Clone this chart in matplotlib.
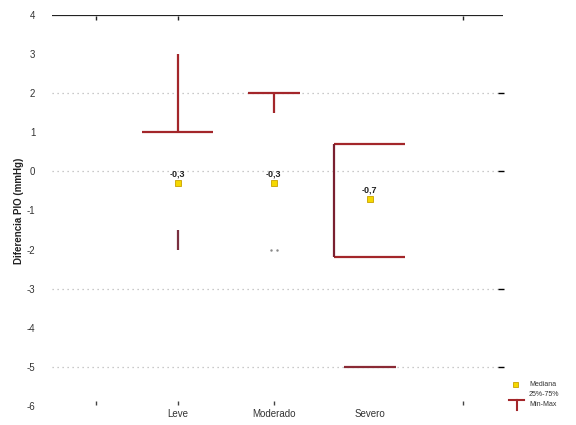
import matplotlib
matplotlib.use("Agg")
import matplotlib.pyplot as plt
from matplotlib.lines import Line2D

# %%
# Data (Statistica-style box plot)
categories = ["Leve", "Moderado", "Severo"]
medians = [-0.3, -0.3, -0.7]
q25 = [-1.5, -2.0, -2.2]
q75 = [1.0, 1.5, 0.7]
mins = [-2.0, -2.0, -5.0]
maxs = [3.0, 2.0, 0.7]
median_labels = ["-0,3", "-0,3", "-0,7"]
y_ticks = [4, 3, 2, 1, 0, -1, -2, -3, -4, -5, -6]
grid_rows = [2, 0, -3, -5]

# %%
red = "#a3262a"
plt.rcParams['font.family'] = ['Liberation Sans', 'DejaVu Sans']

fig = plt.figure(figsize=(5.76, 4.25), dpi=100)
ax = fig.add_axes([52 / 576, 1 - 406 / 425, (503 - 52) / 576, (406 - 15) / 425])

xmin, xmax = -0.31, 4.39
xs = [1, 2, 3]
box_w = 0.37
cap_w = 0.27

# Leve: box top + whiskers (only these are visible in the original)
ax.hlines(q75[0], xs[0] - box_w, xs[0] + box_w, color=red, lw=1.6)
ax.vlines(xs[0], q75[0], maxs[0], color=red, lw=1.6)
ax.vlines(xs[0], mins[0], q25[0], color="#7a3040", lw=1.6)

# Moderado: upper cap + whisker
ax.hlines(maxs[1], xs[1] - cap_w, xs[1] + cap_w, color=red, lw=1.6)
ax.vlines(xs[1], q75[1], maxs[1], color=red, lw=1.6)
ax.plot([xs[1] - 0.03, xs[1] + 0.03], [mins[1], mins[1]], ls="none",
        marker=".", ms=1.5, color="#888888")

# Severo: box (left side, top, bottom) + lower cap
ax.hlines([q75[2], q25[2]], xs[2] - box_w, xs[2] + box_w, color=red, lw=1.6)
ax.vlines(xs[2] - box_w, q25[2], q75[2], color="#7a2030", lw=1.6)
ax.hlines(mins[2], xs[2] - cap_w, xs[2] + cap_w, color="#8a2a35", lw=1.6)

# medians
ax.plot(xs, medians, ls="none", marker="s", ms=4, mfc="#f5d800",
        mec="#c8a000", mew=0.6, zorder=5)
for x, m, lab in zip(xs, medians, median_labels):
    ax.text(x, m + 0.12, lab, ha="center", va="bottom", fontsize=6.5,
            fontweight="bold", color="#202020")

# grid + frame
for g in grid_rows:
    ax.axhline(g, color="#b8b8b8", lw=0.9, ls=(0, (1, 3)), zorder=0)
    ax.plot(xmax - 0.02, g, marker="_", ms=4, color="black", clip_on=False)
ax.axhline(4, color="#222222", lw=1.6, zorder=1)
for x in [0.15, 1, 3.97]:
    ax.plot(x, 3.93, marker="|", ms=3, color="#222222")
for x in [0.15, 1, 2, 3.97]:
    ax.plot(x, -5.92, marker="|", ms=2.5, color="#444444")

ax.set_xlim(xmin, xmax)
ax.set_ylim(-6, 4)
ax.set_yticks(y_ticks)
ax.set_yticklabels([str(v) for v in y_ticks], fontsize=7, color="#333333")
ax.set_xticks(xs)
ax.set_xticklabels(categories, fontsize=7, color="#333333")
ax.tick_params(axis="y", length=0, pad=12)
ax.tick_params(axis="x", length=0, pad=2)
for spine in ax.spines.values():
    spine.set_visible(False)
ax.set_ylabel("Diferencia PIO (mmHg)", fontsize=7, fontweight="bold",
              color="#222222", labelpad=2)

# legend (manual, lower right)
fig.patches.append(plt.Rectangle((513 / 576, 1 - 387 / 425), 5 / 576, 5 / 425,
                                 transform=fig.transFigure, fc="#f5d800",
                                 ec="#c8a000", lw=0.6))
fig.lines.append(Line2D([509 / 576, 524 / 576], [1 - 400 / 425, 1 - 400 / 425],
                        transform=fig.transFigure, color=red, lw=1.5))
fig.lines.append(Line2D([516.5 / 576, 516.5 / 576], [1 - 400 / 425, 1 - 410 / 425],
                        transform=fig.transFigure, color=red, lw=1.5))
fig.text(529 / 576, 1 - 385 / 425, "Mediana", fontsize=5, va="center", color="#333333")
fig.text(529 / 576, 1 - 395 / 425, "25%-75%", fontsize=5, va="center", color="#333333")
fig.text(529 / 576, 1 - 405 / 425, "Min-Max", fontsize=5, va="center", color="#333333")

fig.savefig("out.png", dpi=100)
